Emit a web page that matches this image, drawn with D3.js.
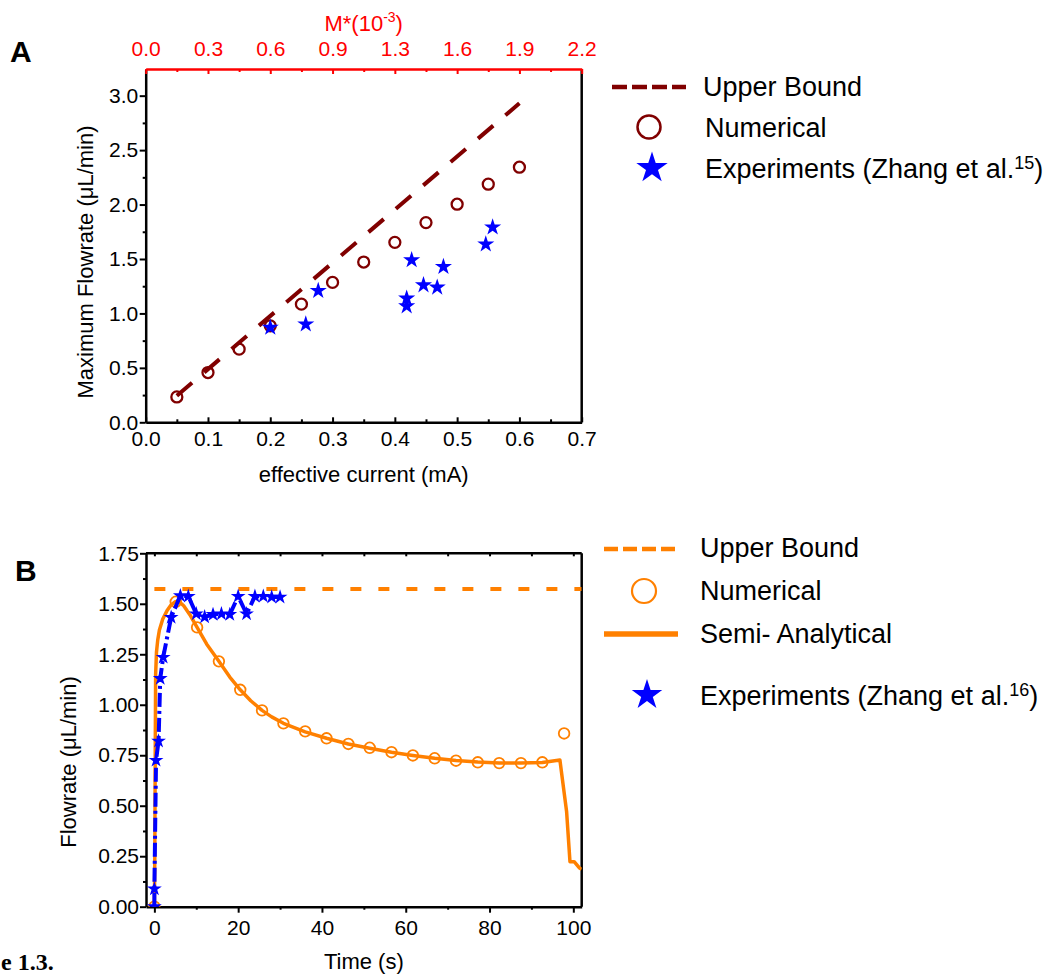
<!DOCTYPE html>
<html>
<head>
<meta charset="utf-8">
<script src="https://cdn.jsdelivr.net/npm/d3@7"></script>
<style>
body { margin: 0; background: #fff; }
text { font-family: Arial, "Liberation Sans", sans-serif; }
</style>
</head>
<body>
<div id="chart"></div>
<script>
// ---- panel A data ----
var currentTicks = [0, 0.1, 0.2, 0.3, 0.4, 0.5, 0.6, 0.7];
var mTickLabels = ["0.0", "0.3", "0.6", "0.9", "1.3", "1.6", "1.9", "2.2"];
var flowTicksA = [0, 0.5, 1.0, 1.5, 2.0, 2.5, 3.0];

var ubCurrent = [0.05, 0.6];
var ubFlow = [0.244, 2.93];

var numCurrent = [0.05, 0.1, 0.15, 0.2, 0.25, 0.3, 0.35, 0.4, 0.45, 0.5, 0.55, 0.6];
var numFlow = [0.233, 0.457, 0.672, 0.886, 1.085, 1.285, 1.472, 1.653, 1.834, 2.003, 2.187, 2.343];

var expCurrent = [0.2, 0.257, 0.277, 0.419, 0.419, 0.427, 0.446, 0.468, 0.478, 0.546, 0.557];
var expFlow = [0.871, 0.90, 1.208, 1.138, 1.067, 1.49, 1.26, 1.239, 1.429, 1.635, 1.791];

var legendA = ["Upper Bound", "Numerical", "Experiments (Zhang et al."];

// ---- panel B data ----
var timeTicks = [0, 20, 40, 60, 80, 100];
var flowTicksB = [0, 0.25, 0.5, 0.75, 1.0, 1.25, 1.5, 1.75];

var ubTime = [0, 102];
var ubFlowB = [1.573, 1.573];

var numTime = [0, 5.1, 10.2, 15.4, 20.5, 25.7, 30.8, 36.0, 41.1, 46.3, 51.4, 56.6, 61.7, 66.9, 72.0, 77.2, 82.3, 87.5, 92.6, 97.8];
var numFlowB = [0, 1.51, 1.383, 1.215, 1.074, 0.972, 0.908, 0.868, 0.834, 0.806, 0.787, 0.765, 0.749, 0.735, 0.723, 0.715, 0.711, 0.711, 0.715, 0.858];

var semiTime = [0, 0.1, 0.2, 0.3, 0.5, 0.8, 1.2, 2.0, 3.0, 4.0, 5.0, 5.8, 7.0, 8.5, 10.2, 12.5, 15.4, 18.0, 20.5, 23.0, 25.7, 28.0, 30.8, 36.0, 41.1, 46.3, 51.4, 56.6, 61.7, 66.9, 72.0, 77.2, 82.3, 87.5, 92.6, 96.8, 98.4, 99.2, 100.2, 101.4, 102];
var semiFlow = [0, 0.25, 0.75, 1.15, 1.26, 1.32, 1.37, 1.425, 1.465, 1.495, 1.51, 1.512, 1.49, 1.445, 1.383, 1.30, 1.215, 1.137, 1.074, 1.02, 0.972, 0.94, 0.908, 0.866, 0.834, 0.806, 0.785, 0.765, 0.749, 0.735, 0.724, 0.716, 0.712, 0.711, 0.714, 0.726, 0.47, 0.223, 0.223, 0.193, 0.185];

var expTime = [0.0, 0.0, 0.4, 1.0, 1.4, 2.1, 4.0, 6.2, 8.1, 10.0, 12.0, 14.0, 16.0, 18.0, 20.0, 22.0, 24.0, 26.0, 28.0, 30.0];
var expFlowB = [0.0, 0.088, 0.725, 0.82, 1.13, 1.235, 1.433, 1.54, 1.537, 1.45, 1.435, 1.447, 1.45, 1.447, 1.537, 1.45, 1.537, 1.537, 1.533, 1.533];

var legendB = ["Upper Bound", "Numerical", "Semi- Analytical", "Experiments (Zhang et al."];

var maroon = "#800000", orange = "#ff8000", blue = "#0000ff", red = "#ff0000";

var svg = d3.select("#chart").append("svg")
    .attr("width", 1050).attr("height", 975)
    .style("background", "#fff");

function starPath(R) {
  return d3.symbol().type(d3.symbolStar).size(R * R / 0.8908130915)();
}

function styleAxis(g, color) {
  g.selectAll("path").attr("stroke", color).attr("stroke-width", 2.5);
  g.selectAll("line").attr("stroke", color).attr("stroke-width", 2);
  g.selectAll("text").attr("fill", color).style("font-size", "21px");
}

// ================= panel A =================
var A = {left: 145.7, right: 581.7, top: 69, bottom: 422.3};
var xA = d3.scaleLinear().domain([0, 0.7]).range([A.left, A.right]);
var xTopA = d3.scaleLinear().domain([0, 2.2]).range([A.left, A.right]);
var yA = d3.scaleLinear().domain([0, 3.245]).range([A.bottom, A.top]);

var gA = svg.append("g");

// minor ticks
gA.append("g").attr("transform", "translate(0," + A.bottom + ")")
  .call(d3.axisBottom(xA).tickValues(d3.range(0.05, 0.7, 0.1)).tickSize(-3).tickFormat(""))
  .call(function(g) { g.select(".domain").remove(); styleAxis(g, "#000"); });
gA.append("g").attr("transform", "translate(" + A.left + ",0)")
  .call(d3.axisLeft(yA).tickValues(d3.range(0.25, 3.0, 0.5)).tickSize(3).tickFormat(""))
  .call(function(g) { g.select(".domain").remove(); styleAxis(g, "#000"); });
gA.append("g").attr("transform", "translate(0," + A.top + ")")
  .call(d3.axisTop(xTopA).tickValues(currentTicks.slice(0, 7).map(function(c) { return (c + 0.05) * 2.2 / 0.7; })).tickSize(-3).tickFormat(""))
  .call(function(g) { g.select(".domain").remove(); styleAxis(g, red); });

// right border
gA.append("line").attr("x1", A.right).attr("x2", A.right).attr("y1", A.top).attr("y2", A.bottom)
  .attr("stroke", "#000").attr("stroke-width", 2.5);

// major axes
gA.append("g").attr("transform", "translate(0," + A.bottom + ")")
  .call(d3.axisBottom(xA).tickValues(currentTicks).tickSizeInner(-5).tickSizeOuter(0)
        .tickPadding(9).tickFormat(d3.format(".1f")))
  .call(function(g) { styleAxis(g, "#000"); });
gA.append("g").attr("transform", "translate(" + A.left + ",0)")
  .call(d3.axisLeft(yA).tickValues(flowTicksA).tickSize(6).tickSizeOuter(0)
        .tickPadding(1.5).tickFormat(d3.format(".1f")))
  .call(function(g) { styleAxis(g, "#000"); });
gA.append("g").attr("transform", "translate(0," + A.top + ")")
  .call(d3.axisTop(xTopA).tickValues(currentTicks.map(function(c) { return c * 2.2 / 0.7; }))
        .tickSizeInner(-5).tickSizeOuter(0).tickPadding(13)
        .tickFormat(function(d, i) { return mTickLabels[i]; }))
  .call(function(g) { styleAxis(g, red); });

// axis titles
gA.append("text").attr("x", (A.left + A.right) / 2).attr("y", 482)
  .attr("text-anchor", "middle").style("font-size", "22px").text("effective current (mA)");
gA.append("text").attr("transform", "translate(93,262) rotate(-90)")
  .attr("text-anchor", "middle").style("font-size", "22px").text("Maximum Flowrate (\u03bcL/min)");
var mt = gA.append("text").attr("x", (A.left + A.right) / 2).attr("y", 31)
  .attr("text-anchor", "middle").attr("fill", red).style("font-size", "22px");
mt.append("tspan").text("M*(10");
mt.append("tspan").attr("dy", -9).style("font-size", "14px").text("-3");
mt.append("tspan").attr("dy", 9).text(")");

gA.append("text").attr("x", 10).attr("y", 62).style("font-size", "30px").style("font-weight", "bold").text("A");

// marks
gA.selectAll("circle.num").data(numCurrent).enter().append("circle")
  .attr("cx", function(d) { return xA(d); })
  .attr("cy", function(d, i) { return yA(numFlow[i]); })
  .attr("r", 5.5).attr("fill", "none").attr("stroke", maroon).attr("stroke-width", 2.3);

gA.append("path").datum(d3.zip(ubCurrent, ubFlow))
  .attr("fill", "none").attr("stroke", maroon).attr("stroke-width", 4)
  .attr("stroke-dasharray", "20,16")
  .attr("d", d3.line().x(function(d) { return xA(d[0]); }).y(function(d) { return yA(d[1]); }));

gA.selectAll("path.exp").data(expCurrent).enter().append("path")
  .attr("d", starPath(9))
  .attr("transform", function(d, i) { return "translate(" + xA(d) + "," + yA(expFlow[i]) + ")"; })
  .attr("fill", blue);

// legend A
var lgA = gA.append("g");
lgA.append("line").attr("x1", 612).attr("x2", 686).attr("y1", 87).attr("y2", 87)
  .attr("stroke", maroon).attr("stroke-width", 4.5).attr("stroke-dasharray", "15,5");
lgA.append("circle").attr("cx", 649).attr("cy", 127).attr("r", 11.5)
  .attr("fill", "none").attr("stroke", maroon).attr("stroke-width", 2.5);
lgA.append("path").attr("d", starPath(16.5)).attr("transform", "translate(652,168)").attr("fill", blue);
lgA.append("text").attr("x", 703).attr("y", 96).style("font-size", "27px").text(legendA[0]);
lgA.append("text").attr("x", 705).attr("y", 137).style("font-size", "27px").text(legendA[1]);
var eA = lgA.append("text").attr("x", 705).attr("y", 178).style("font-size", "27px");
eA.append("tspan").text(legendA[2]);
eA.append("tspan").attr("dy", -9).style("font-size", "18px").text("15");
eA.append("tspan").attr("dy", 9).text(")");

// ================= panel B =================
var B = {left: 146, right: 581.7, top: 553.3, bottom: 906.7};
var xB = d3.scaleLinear().domain([-2, 102]).range([B.left, B.right]);
var yB = d3.scaleLinear().domain([0, 1.75]).range([B.bottom, B.top]);

var gB = svg.append("g");

gB.append("clipPath").attr("id", "clipB").append("rect")
  .attr("x", B.left).attr("y", B.top).attr("width", B.right - B.left).attr("height", B.bottom - B.top);

// minor ticks
gB.append("g").attr("transform", "translate(0," + B.bottom + ")")
  .call(d3.axisBottom(xB).tickValues(d3.range(10, 100, 20)).tickSize(3).tickFormat(""))
  .call(function(g) { g.select(".domain").remove(); styleAxis(g, "#000"); });
gB.append("g").attr("transform", "translate(" + B.left + ",0)")
  .call(d3.axisLeft(yB).tickValues(d3.range(0.125, 1.75, 0.25)).tickSize(3).tickFormat(""))
  .call(function(g) { g.select(".domain").remove(); styleAxis(g, "#000"); });
gB.append("g").attr("transform", "translate(0," + B.top + ")")
  .call(d3.axisTop(xB).tickValues(d3.range(0, 101, 10)).tickSize(-3).tickFormat(""))
  .call(function(g) { g.select(".domain").remove(); styleAxis(g, "#000"); });

gB.append("line").attr("x1", B.right).attr("x2", B.right).attr("y1", B.top).attr("y2", B.bottom)
  .attr("stroke", "#000").attr("stroke-width", 2.5);
gB.append("line").attr("x1", B.left).attr("x2", B.right).attr("y1", B.top).attr("y2", B.top)
  .attr("stroke", "#000").attr("stroke-width", 2.5);

gB.append("g").attr("transform", "translate(0," + B.bottom + ")")
  .call(d3.axisBottom(xB).tickValues(timeTicks).tickSize(6).tickSizeOuter(0)
        .tickPadding(7).tickFormat(d3.format("d")))
  .call(function(g) { styleAxis(g, "#000"); });
gB.append("g").attr("transform", "translate(" + B.left + ",0)")
  .call(d3.axisLeft(yB).tickValues(flowTicksB).tickSize(6).tickSizeOuter(0)
        .tickPadding(1).tickFormat(d3.format(".2f")))
  .call(function(g) { styleAxis(g, "#000"); });

gB.append("text").attr("x", (B.left + B.right) / 2).attr("y", 969)
  .attr("text-anchor", "middle").style("font-size", "22px").text("Time (s)");
gB.append("text").attr("transform", "translate(76,762) rotate(-90)")
  .attr("text-anchor", "middle").style("font-size", "22px").text("Flowrate (\u03bcL/min)");
gB.append("text").attr("x", 15).attr("y", 581).style("font-size", "30px").style("font-weight", "bold").text("B");

var plotB = gB.append("g").attr("clip-path", "url(#clipB)");
var lineB = d3.line().x(function(d) { return xB(d[0]); }).y(function(d) { return yB(d[1]); });

plotB.append("path").datum(d3.zip(ubTime, ubFlowB))
  .attr("fill", "none").attr("stroke", orange).attr("stroke-width", 4)
  .attr("stroke-dasharray", "11,17").attr("d", lineB);
plotB.append("path").datum(d3.zip(semiTime, semiFlow))
  .attr("fill", "none").attr("stroke", orange).attr("stroke-width", 3.5)
  .attr("stroke-linejoin", "round").attr("d", lineB);
plotB.selectAll("circle").data(numTime).enter().append("circle")
  .attr("cx", function(d) { return xB(d); })
  .attr("cy", function(d, i) { return yB(numFlowB[i]); })
  .attr("r", 5.3).attr("fill", "none").attr("stroke", orange).attr("stroke-width", 1.8);
plotB.append("path").datum(d3.zip(expTime, expFlowB))
  .attr("fill", "none").attr("stroke", blue).attr("stroke-width", 4)
  .attr("stroke-dasharray", "14,4,3,4").attr("d", lineB);
plotB.selectAll("path.exp").data(expTime).enter().append("path")
  .attr("d", starPath(7.8))
  .attr("transform", function(d, i) { return "translate(" + xB(d) + "," + yB(expFlowB[i]) + ")"; })
  .attr("fill", blue);

// legend B
var lgB = gB.append("g");
lgB.append("line").attr("x1", 604).attr("x2", 678).attr("y1", 549).attr("y2", 549)
  .attr("stroke", orange).attr("stroke-width", 4.5).attr("stroke-dasharray", "14,5");
lgB.append("circle").attr("cx", 644).attr("cy", 591).attr("r", 12)
  .attr("fill", "none").attr("stroke", orange).attr("stroke-width", 2.2);
lgB.append("line").attr("x1", 604).attr("x2", 678).attr("y1", 634).attr("y2", 634)
  .attr("stroke", orange).attr("stroke-width", 5.5);
lgB.append("path").attr("d", starPath(16)).attr("transform", "translate(647,695)").attr("fill", blue);
lgB.append("text").attr("x", 700).attr("y", 557).style("font-size", "27px").text(legendB[0]);
lgB.append("text").attr("x", 700).attr("y", 600).style("font-size", "27px").text(legendB[1]);
lgB.append("text").attr("x", 700).attr("y", 643).style("font-size", "27px").text(legendB[2]);
var eB = lgB.append("text").attr("x", 700).attr("y", 705).style("font-size", "27px");
eB.append("tspan").text(legendB[3]);
eB.append("tspan").attr("dy", -9).style("font-size", "18px").text("16");
eB.append("tspan").attr("dy", 9).text(")");

// figure caption fragment
svg.append("text").attr("x", 1).attr("y", 970)
  .style("font-family", "'Liberation Serif', 'Times New Roman', serif")
  .style("font-size", "24px").style("font-weight", "bold").text("e 1.3.");
</script>
</body>
</html>
